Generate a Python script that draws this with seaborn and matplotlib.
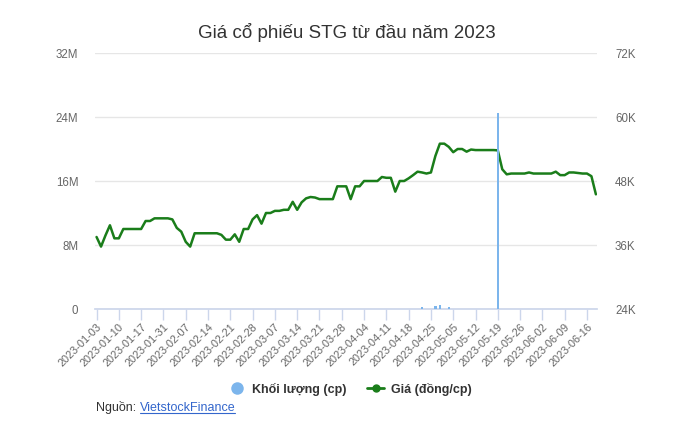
import numpy as np
import pandas as pd
import matplotlib
matplotlib.use("Agg")
import matplotlib.pyplot as plt
from matplotlib.lines import Line2D
import seaborn as sns

# ---- data ----
holidays = ["2023-01-02", "2023-01-20", "2023-01-23", "2023-01-24", "2023-01-25",
            "2023-01-26", "2023-05-01", "2023-05-02", "2023-05-03"]
days = pd.bdate_range("2023-01-03", "2023-06-20")
days = [d for d in days if d.strftime("%Y-%m-%d") not in holidays]
dates = [d.strftime("%Y-%m-%d") for d in days]

price = [37500, 35700, 37800, 39700, 37250, 37250, 39000, 39000, 39000, 39000,
         39000, 40500, 40500, 41000, 41000, 41000, 41000, 40800, 39200, 38500,
         36600, 35700, 38200, 38200, 38200, 38200, 38200, 38200, 37900, 37000,
         37000, 38000, 36600, 39000, 39000, 40800, 41600, 40000, 42000, 42000,
         42400, 42400, 42600, 42600, 44100, 42600, 44000, 44750, 45000, 44900,
         44600, 44600, 44600, 44600, 47000, 47000, 47000, 44600, 47000, 47000,
         48000, 48000, 48000, 48000, 48750, 48600, 48600, 46000, 48000, 48000,
         48500, 49100, 49750, 49600, 49400, 49600, 52700, 55000, 55000, 54400,
         53400, 54000, 54000, 53500, 53900, 53800, 53800, 53800, 53800, 53800,
         53750, 50200, 49250, 49400, 49400, 49400, 49400, 49600, 49400, 49400,
         49400, 49400, 49400, 49750, 49100, 49100, 49600, 49600, 49500, 49400,
         49400, 48900, 45500]

volume = [0.02, 0.02, 0.02, 0.02, 0.02, 0.02, 0.02, 0.02, 0.02, 0.02,
          0.02, 0.02, 0.02, 0.02, 0.02, 0.02, 0.02, 0.02, 0.02, 0.02,
          0.02, 0.02, 0.02, 0.02, 0.02, 0.02, 0.02, 0.02, 0.02, 0.02,
          0.02, 0.02, 0.02, 0.02, 0.02, 0.02, 0.02, 0.02, 0.02, 0.02,
          0.02, 0.02, 0.02, 0.02, 0.02, 0.02, 0.02, 0.02, 0.02, 0.02,
          0.02, 0.02, 0.02, 0.02, 0.02, 0.02, 0.02, 0.02, 0.02, 0.02,
          0.02, 0.02, 0.02, 0.02, 0.02, 0.02, 0.02, 0.02, 0.02, 0.02,
          0.05, 0.05, 0.05, 0.22, 0.05, 0.05, 0.33, 0.45, 0.05, 0.22,
          0.05, 0.05, 0.05, 0.05, 0.05, 0.05, 0.05, 0.05, 0.05, 0.05,
          24.5, 0.05, 0.05, 0.05, 0.05, 0.05, 0.05, 0.05, 0.05, 0.05,
          0.05, 0.05, 0.05, 0.05, 0.05, 0.05, 0.05, 0.05, 0.05, 0.05,
          0.05, 0.05, 0.05]  # millions of shares

vol_ticks = [0, 8, 16, 24, 32]
vol_labels = ["0", "8M", "16M", "24M", "32M"]
price_ticks = [24000, 36000, 48000, 60000, 72000]
price_labels = ["24K", "36K", "48K", "60K", "72K"]

title = "Giá cổ phiếu STG từ đầu năm 2023"
vol_name = "Khối lượng (cp)"
price_name = "Giá (đồng/cp)"

df = pd.DataFrame({"date": dates, "idx": np.arange(len(dates)),
                   "price": price, "volume": volume})

# ---- style ----
sns.set_theme(style="white")
plt.rcParams["font.family"] = ["Liberation Sans", "DejaVu Sans"]

W, H = 694, 447
fig = plt.figure(figsize=(W / 100, H / 100), dpi=100)
l, r, t, b = 95, 597, 53, 309
ax2 = fig.add_axes([l / W, 1 - b / H, (r - l) / W, (b - t) / H])  # price (right)
ax = ax2.twinx()  # volume drawn on top
ax.set_zorder(ax2.get_zorder() + 1)
ax.patch.set_visible(False)

# price line
sns.lineplot(data=df, x="idx", y="price", ax=ax2, color="#1a7d1a",
             linewidth=1.8, legend=False)
ax2.yaxis.tick_right()
ax2.yaxis.set_label_position("right")
ax2.set_ylim(24000, 72000)
ax2.set_yticks(price_ticks)
ax2.set_yticklabels(price_labels)
ax2.grid(axis="y", color="#e6e6e6", linewidth=1)
ax2.set_axisbelow(True)

# volume bars
sns.barplot(data=df, x="idx", y="volume", ax=ax, color="#7cb5ec",
            width=0.5, native_scale=True, saturation=1, edgecolor="none")
ax.yaxis.tick_left()
ax.yaxis.set_label_position("left")
ax.set_ylim(0, 32)
ax.set_yticks(vol_ticks)
ax.set_yticklabels(vol_labels)

for a in (ax, ax2):
    a.set_xlim(-0.35, len(dates) - 1 + 0.25)
    a.set_xlabel("")
    a.set_ylabel("")
    for s in a.spines.values():
        s.set_visible(False)
    a.tick_params(axis="y", length=0, labelsize=8.3, labelcolor="#666666")

ax.tick_params(axis="y", pad=12)
ax2.tick_params(axis="y", pad=13)

ax2.spines["bottom"].set_visible(True)
ax2.spines["bottom"].set_color("#ccd6eb")
tick_pos = list(range(0, len(dates), 5))
ax.set_xticks(tick_pos)
ax.set_xticklabels([])
ax.tick_params(axis="x", length=0)
ax2.set_xticks(tick_pos)
ax2.set_xticklabels([dates[i] for i in tick_pos], rotation=45, ha="right",
                    rotation_mode="anchor", fontsize=7.9, color="#666666")
ax2.tick_params(axis="x", length=8, width=1, color="#ccd6eb", pad=1,
                direction="out", bottom=True)

# title
fig.text(347 / W, 1 - 33 / H, title, ha="center", va="center",
         fontsize=13.5, color="#333333")

# legend
handles = [
    Line2D([], [], marker="o", linestyle="none", markersize=9,
           markerfacecolor="#7cb5ec", markeredgecolor="none"),
    Line2D([], [], marker="o", color="#1a7d1a", linewidth=2, markersize=5),
]
leg = fig.legend(handles, [vol_name, price_name], loc="center",
                 bbox_to_anchor=(350 / W, 1 - 389 / H), ncol=2, frameon=False,
                 prop={"size": 9, "weight": "bold"}, handlelength=1.4,
                 handletextpad=0.5, columnspacing=1.6)
for txt in leg.get_texts():
    txt.set_color("#333333")

# source
t1 = fig.text(96 / W, 1 - 408 / H, "Nguồn: ", ha="left", va="center",
              fontsize=9, color="#333333")
fig.canvas.draw()
bb = t1.get_window_extent().transformed(fig.transFigure.inverted())
t2 = fig.text(bb.x1, 1 - 408 / H, "VietstockFinance", ha="left", va="center",
              fontsize=9, color="#3366cc")
fig.canvas.draw()
bb2 = t2.get_window_extent().transformed(fig.transFigure.inverted())
fig.add_artist(Line2D([bb2.x0, bb2.x1], [bb2.y0 + 0.002, bb2.y0 + 0.002],
                      transform=fig.transFigure, color="#3366cc", linewidth=0.8))

fig.savefig("out.png", dpi=100)
